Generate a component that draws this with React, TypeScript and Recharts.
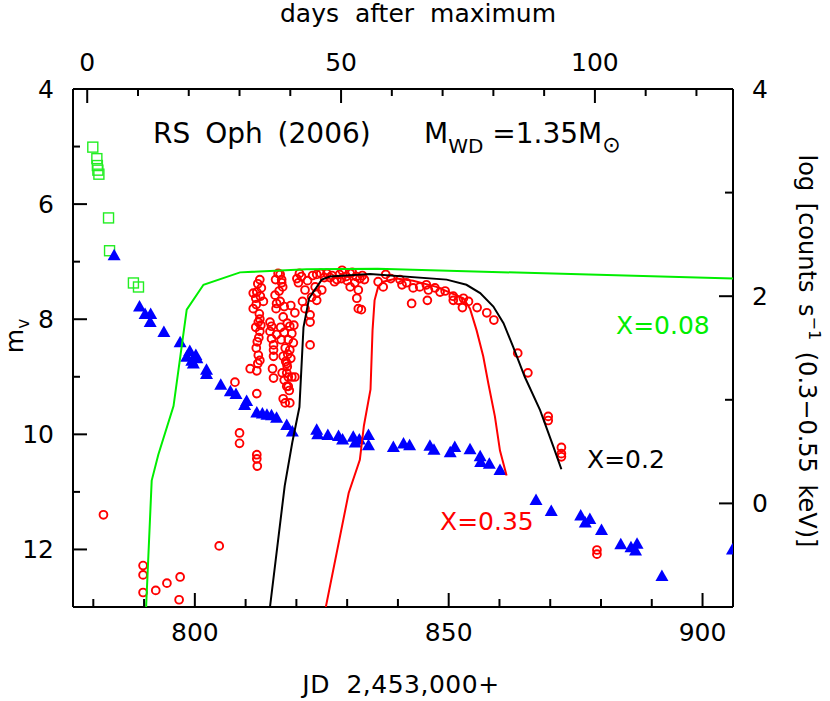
import React from 'react';
import { ComposedChart, XAxis, YAxis, Scatter } from 'recharts';

// ---------- data ----------
// V magnitudes: [JD - 2,453,000, m_v]
const greenSquares: [number, number][] = [
  [779.9, 5.01], [780.7, 5.21], [780.8, 5.33], [780.9, 5.41], [781.1, 5.48],
  [783.0, 6.24], [783.2, 6.81], [787.9, 7.37], [788.9, 7.44],
];

const blueTriangles: [number, number][] = [
  [784.1, 6.89], [789.1, 7.78], [790.2, 7.91], [791.3, 7.91], [791.2, 8.05],
  [793.9, 8.22], [797.1, 8.40], [799.0, 8.55], [798.4, 8.65], [799.4, 8.72],
  [800.4, 8.68], [799.7, 8.77], [800.2, 8.62], [802.3, 8.88], [802.3, 8.95],
  [805.1, 9.14], [807.0, 9.25], [808.1, 9.30], [810.2, 9.42], [809.8, 9.49],
  [812.2, 9.62], [813.3, 9.64], [814.2, 9.66], [815.1, 9.67], [816.1, 9.71],
  [818.1, 9.84], [819.2, 9.95], [824.0, 9.92], [824.2, 10.00], [826.2, 10.01],
  [828.3, 10.03], [829.1, 10.09], [831.2, 10.04], [831.6, 10.14], [832.4, 10.09],
  [834.2, 10.01], [834.2, 10.19], [839.1, 10.22], [841.1, 10.16], [842.3, 10.19],
  [846.3, 10.20], [847.1, 10.27], [850.3, 10.31], [851.2, 10.22], [854.2, 10.26],
  [856.2, 10.38], [856.3, 10.48], [858.0, 10.51], [860.1, 10.62], [867.2, 11.14],
  [870.2, 11.33], [876.0, 11.41], [876.9, 11.53], [877.8, 11.47], [880.1, 11.66],
  [883.9, 11.91], [885.9, 11.96], [887.1, 11.90], [886.8, 12.02], [892.0, 12.46],
  [905.9, 12.00],
];

// X-ray count rates: [JD - 2,453,000, log counts/s]
const redCircles: [number, number][] = [
  [782.0, -0.11], [789.8, -0.60], [789.8, -0.69], [789.8, -0.86], [792.3, -0.84],
  [794.5, -0.77], [797.1, -0.71], [796.9, -0.93], [804.8, -0.41], [808.8, 0.68],
  [808.8, 0.58], [807.9, 1.17], [812.2, 0.47], [812.2, 0.43], [812.3, 0.36],
  [812.2, 1.06], [810.9, 1.30], [812.2, 1.28], [812.5, 1.43], [812.8, 1.38],
  [812.3, 1.56], [812.8, 1.66], [812.5, 1.75], [812.8, 1.78], [811.5, 1.88],
  [813.5, 1.95], [811.5, 2.03], [812.2, 2.04], [812.8, 2.16], [813.1, 2.08],
  [812.0, 1.98], [815.3, 1.30], [815.5, 1.21], [815.5, 1.42], [814.8, 1.75],
  [815.1, 1.71], [814.8, 1.66], [815.1, 1.59], [815.5, 1.53], [815.5, 1.48],
  [816.1, 1.63], [815.8, 2.01], [816.1, 1.93], [816.0, 1.88], [816.8, 1.95],
  [816.4, 2.22], [816.8, 2.21], [817.1, 2.16], [817.3, 2.09], [817.1, 2.13],
  [817.4, 1.80], [818.2, 1.74], [818.7, 1.71], [819.7, 1.84], [819.5, 1.72],
  [819.1, 1.64], [818.4, 1.58], [817.8, 1.50], [817.4, 1.42], [817.9, 1.37],
  [818.2, 1.32], [818.1, 1.26], [818.1, 1.35], [819.1, 1.22], [819.7, 1.22],
  [818.4, 1.22], [818.1, 1.13], [818.6, 1.09], [818.4, 1.13], [817.4, 1.01],
  [817.8, 0.97], [818.7, 0.97], [818.7, 1.48], [822.7, 1.53], [820.1, 2.17],
  [821.0, 2.19], [820.4, 2.13], [821.7, 2.06], [821.7, 1.88], [822.7, 1.82],
  [822.7, 1.75], [824.0, 2.03], [825.0, 2.06], [824.0, 2.21], [823.7, 2.09],
  [824.0, 1.96], [826.0, 2.22], [828.0, 2.16], [829.0, 2.25], [830.6, 2.22],
  [832.5, 2.17], [832.2, 2.06], [831.9, 1.98], [832.2, 1.88], [832.8, 1.87],
  [831.5, 2.13], [830.6, 2.09], [827.0, 2.20], [825.5, 2.18], [829.8, 2.19],
  [833.0, 2.20], [831.0, 2.23], [828.5, 2.21], [827.5, 2.14], [836.1, 2.14],
  [837.1, 2.09], [837.6, 2.21], [838.6, 2.17], [840.4, 2.16], [840.8, 2.11],
  [841.7, 2.13], [843.0, 2.08], [842.7, 1.93], [844.3, 2.09], [845.6, 2.11],
  [846.0, 2.06], [845.8, 1.96], [847.3, 2.08], [848.3, 2.04], [849.3, 2.05],
  [850.9, 2.00], [850.9, 1.96], [851.9, 1.96], [852.9, 1.98], [853.9, 1.95],
  [852.7, 1.89], [855.6, 1.89], [857.5, 1.84], [858.9, 1.77], [863.6, 1.45],
  [865.6, 1.26], [869.6, 0.84], [869.6, 0.80], [872.2, 0.54], [872.2, 0.48],
  [872.2, 0.45], [879.2, -0.45], [879.2, -0.49],
  // denser parts of the early soft X-ray flicker
  [812.1, 1.50], [812.6, 1.60], [812.0, 1.70], [812.7, 1.83], [812.1, 1.92],
  [812.9, 2.00], [812.4, 2.12], [813.0, 1.72], [812.4, 1.35], [816.9, 1.70],
  [817.0, 1.58], [817.6, 1.65], [817.2, 1.26], [817.6, 1.19], [818.3, 1.44],
  [818.9, 1.40], [819.4, 1.55], [816.6, 2.05], [817.6, 1.90], [818.9, 1.91],
  [815.9, 2.16], [820.6, 2.22], [822.2, 2.15], [823.2, 2.20], [824.8, 2.22],
  [826.6, 2.18], [828.9, 2.17], [830.0, 2.15], [831.8, 2.19], [833.4, 2.16],
  [821.2, 1.95], [823.0, 1.99],
];

// model light curves (log counts/s)
const modelX008: [number, number][] = [
  [790.4, -1.0], [791.5, 0.22], [792.8, 0.47], [795.8, 0.94], [798.4, 1.87],
  [801.7, 2.11], [808.9, 2.23], [822.0, 2.26], [836.0, 2.265], [906.0, 2.17],
];
const modelX02: [number, number][] = [
  [814.8, -1.0], [817.7, 0.17], [819.2, 0.59], [820.6, 0.93], [821.4, 1.70],
  [822.5, 1.98], [825.0, 2.16], [826.6, 2.19], [834.5, 2.215], [849.6, 2.16],
  [853.5, 2.11], [856.2, 2.03], [858.8, 1.90], [860.8, 1.74], [862.7, 1.51],
  [865.0, 1.22], [868.0, 0.90], [870.6, 0.55], [872.2, 0.33],
];
const modelX035: [number, number][] = [
  [825.8, -1.0], [830.3, 0.10], [832.5, 0.42], [833.3, 0.75], [834.6, 1.10],
  [835.0, 1.67], [835.4, 1.96], [836.1, 2.09], [837.1, 2.14], [839.7, 2.17],
  [843.0, 2.15], [847.6, 2.09], [852.9, 1.98], [854.2, 1.88], [855.5, 1.67],
  [856.8, 1.42], [857.8, 1.16], [859.1, 0.84], [860.1, 0.51], [861.4, 0.27],
];

// axes
const jdDomain: [number, number] = [776, 906];
const jdTicks = [780, 790, 800, 810, 820, 830, 840, 850, 860, 870, 880, 890, 900];
const jdLabels = [800, 850, 900];
const dayZero = 778.8;
const dayTicks = [0, 10, 20, 30, 40, 50, 60, 70, 80, 90, 100, 110, 120];
const dayLabels = [0, 50, 100];
const magDomain: [number, number] = [4, 13];
const magTicks = [4, 5, 6, 7, 8, 9, 10, 11, 12, 13];
const magLabels = [4, 6, 8, 10, 12];
const xrDomain: [number, number] = [-1, 4];
const xrTicks = [-1, 0, 1, 2, 3, 4];
const xrLabels = [0, 2, 4];

// ---------- layout ----------
const W = 830;
const H = 701;
const PL = 73;
const PR = 733;
const PT = 89;
const PB = 607;
const FONT = '"DejaVu Sans", sans-serif';
const TICK_FS = 25;

const toPts = (arr: [number, number][]) => arr.map(([x, y]) => ({ x, y }));

const BottomTick = (p: any) => {
  const v = p.payload.value;
  const major = jdLabels.includes(v);
  return (
    <g>
      <line x1={p.x} x2={p.x} y1={PB} y2={PB - (major ? 14 : 8)} stroke="#000" strokeWidth={2} />
      {major && (
        <text x={p.x} y={641} textAnchor="middle" fontSize={TICK_FS} fontFamily={FONT} fill="#000">
          {v}
        </text>
      )}
    </g>
  );
};

const TopTick = (p: any) => {
  const d = Math.round(p.payload.value - dayZero);
  const major = dayLabels.includes(d);
  return (
    <g>
      <line x1={p.x} x2={p.x} y1={PT} y2={PT + (major ? 14 : 7)} stroke="#000" strokeWidth={2} />
      {major && (
        <text x={p.x} y={71} textAnchor="middle" fontSize={TICK_FS} fontFamily={FONT} fill="#000">
          {d}
        </text>
      )}
    </g>
  );
};

const LeftTick = (p: any) => {
  const v = p.payload.value;
  const major = magLabels.includes(v);
  return (
    <g>
      <line x1={PL} x2={PL + (major ? 14 : 7)} y1={p.y} y2={p.y} stroke="#000" strokeWidth={2} />
      {major && (
        <text x={54} y={p.y + 9} textAnchor="end" fontSize={TICK_FS} fontFamily={FONT} fill="#000">
          {v}
        </text>
      )}
    </g>
  );
};

const RightTick = (p: any) => {
  const v = p.payload.value;
  const major = xrLabels.includes(v);
  return (
    <g>
      <line x1={PR} x2={PR - (major ? 14 : 8)} y1={p.y} y2={p.y} stroke="#000" strokeWidth={2} />
      {major && (
        <text x={752} y={p.y + 9} textAnchor="start" fontSize={TICK_FS} fontFamily={FONT} fill="#000">
          {v}
        </text>
      )}
    </g>
  );
};

const SquareShape = (p: any) => (
  <rect x={p.cx - 5} y={p.cy - 5} width={10} height={10} fill="none" stroke="#22ee22" strokeWidth={1.4} />
);
const TriangleShape = (p: any) => (
  <polygon
    points={`${p.cx - 6.5},${p.cy + 5} ${p.cx + 6.5},${p.cy + 5} ${p.cx},${p.cy - 6.5}`}
    fill="#0000ff"
  />
);
const CircleShape = (p: any) => (
  <circle cx={p.cx} cy={p.cy} r={3.9} fill="none" stroke="#ff0000" strokeWidth={1.9} />
);
const NoShape = () => <g />;

const axisLine = { stroke: '#000', strokeWidth: 2 };

export default function App() {
  return (
    <div style={{ position: 'absolute', left: 0, top: 0, width: W, height: H, background: '#fff' }}>
      <ComposedChart width={W} height={H} margin={{ top: 0, right: 0, bottom: 0, left: 0 }}>
        <XAxis
          xAxisId="b"
          type="number"
          dataKey="x"
          domain={jdDomain}
          allowDataOverflow
          ticks={jdTicks}
          interval={0}
          height={H - PB}
          tickLine={false}
          axisLine={axisLine}
          tick={<BottomTick />}
        />
        <XAxis
          xAxisId="t"
          orientation="top"
          type="number"
          dataKey="x"
          domain={jdDomain}
          allowDataOverflow
          ticks={dayTicks.map((d) => d + dayZero)}
          interval={0}
          height={PT}
          tickLine={false}
          axisLine={axisLine}
          tick={<TopTick />}
        />
        <YAxis
          yAxisId="m"
          type="number"
          dataKey="y"
          domain={magDomain}
          reversed
          allowDataOverflow
          ticks={magTicks}
          interval={0}
          width={PL}
          tickLine={false}
          axisLine={axisLine}
          tick={<LeftTick />}
        />
        <YAxis
          yAxisId="r"
          orientation="right"
          type="number"
          dataKey="y"
          domain={xrDomain}
          allowDataOverflow
          ticks={xrTicks}
          interval={0}
          width={W - PR}
          tickLine={false}
          axisLine={axisLine}
          tick={<RightTick />}
        />
        <Scatter xAxisId="b" yAxisId="r" data={toPts(redCircles)} shape={CircleShape} isAnimationActive={false} />
        <Scatter xAxisId="b" yAxisId="m" data={toPts(greenSquares)} shape={SquareShape} isAnimationActive={false} />
        <Scatter xAxisId="b" yAxisId="m" data={toPts(blueTriangles)} shape={TriangleShape} isAnimationActive={false} />
        <Scatter
          xAxisId="b"
          yAxisId="r"
          data={toPts(modelX008)}
          line={{ stroke: '#00ee00', strokeWidth: 2 }}
          lineType="joint"
          shape={NoShape}
          isAnimationActive={false}
        />
        <Scatter
          xAxisId="b"
          yAxisId="r"
          data={toPts(modelX02)}
          line={{ stroke: '#000000', strokeWidth: 2 }}
          lineType="joint"
          shape={NoShape}
          isAnimationActive={false}
        />
        <Scatter
          xAxisId="b"
          yAxisId="r"
          data={toPts(modelX035)}
          line={{ stroke: '#ff0000', strokeWidth: 2 }}
          lineType="joint"
          shape={NoShape}
          isAnimationActive={false}
        />
      </ComposedChart>
      <svg
        width={W}
        height={H}
        style={{ position: 'absolute', left: 0, top: 0, pointerEvents: 'none' }}
        fontFamily={FONT}
      >
        <text x={418} y={22} textAnchor="middle" fontSize={25} wordSpacing={8}>
          days after maximum
        </text>
        <text x={401} y={693} textAnchor="middle" fontSize={25} wordSpacing={8} letterSpacing={0.5}>
          JD 2,453,000+
        </text>
        <text transform="translate(23,336) rotate(-90)" textAnchor="middle" fontSize={25}>
          m
          <tspan fontSize={17} dy={6}>v</tspan>
        </text>
        <text transform="translate(799,351) rotate(90)" textAnchor="middle" fontSize={24} wordSpacing={4}>
          log [counts s
          <tspan fontSize={16} dy={-10}>−1</tspan>
          <tspan dy={10}> (0.3−0.55 keV)]</tspan>
        </text>
        <text x={153} y={143} fontSize={28} wordSpacing={6}>
          RS Oph (2006)
        </text>
        <text x={424} y={143} fontSize={28}>
          M
          <tspan fontSize={20} dy={10}>WD</tspan>
          <tspan dy={-10}> =1.35M</tspan>
          <tspan fontSize={22} dy={9}>⊙</tspan>
        </text>
        <text x={616} y={334} fontSize={25} fill="#00ee00">
          X=0.08
        </text>
        <text x={587} y={468} fontSize={25} fill="#000">
          X=0.2
        </text>
        <text x={440} y={530} fontSize={25} fill="#ff0000">
          X=0.35
        </text>
      </svg>
    </div>
  );
}
